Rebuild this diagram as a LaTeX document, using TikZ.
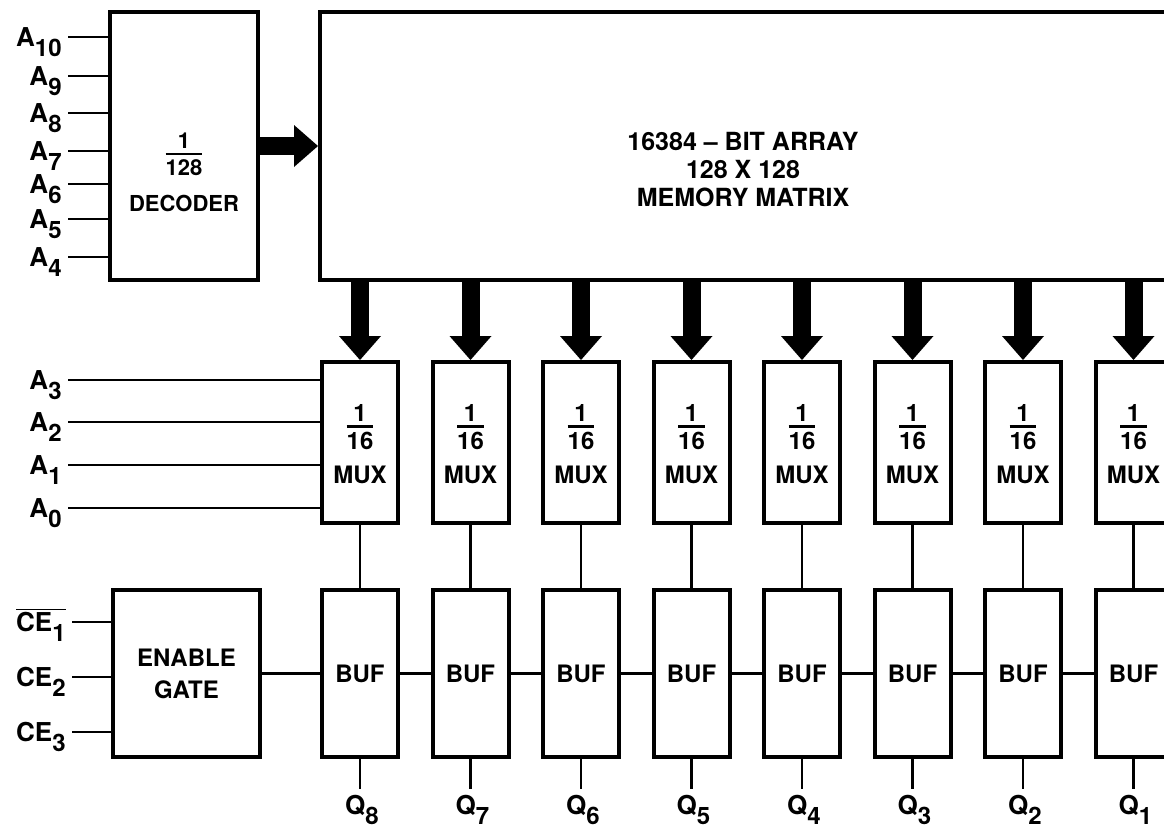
\documentclass[tikz,border=0pt]{standalone}
\usepackage{fontspec}
\setmainfont{TeX Gyre Heros}
\usetikzlibrary{arrows.meta, positioning, calc}

\setlength{\arrayrulewidth}{1.2pt}
% lowered index digit, as lettered on the sheet
\newcommand{\idx}[1]{\raisebox{-5pt}{\fontsize{12}{12}\selectfont #1}}
% stacked 1/n fraction
\newcommand{\frc}[2]{\begin{tabular}{@{}c@{}}#1\\[-2pt]\hline\noalign{\vskip1pt}#2\end{tabular}}

\begin{document}
\begin{tikzpicture}[
  x=0.5pt, y=-0.5pt,
  % --- blocks ---
  blk/.style={draw, line width=2pt, inner sep=0pt, align=center,
    font=\fontsize{12}{14}\selectfont\bfseries},
  decbox/.style={blk, minimum width=74pt, minimum height=134pt},
  matbox/.style={blk, minimum width=423pt, minimum height=134pt},
  muxbox/.style={blk, minimum width=38pt, minimum height=80.5pt},
  bufbox/.style={blk, minimum width=38pt, minimum height=83.5pt},
  gatebox/.style={blk, minimum width=73.5pt, minimum height=83.5pt},
  % --- labels ---
  pin/.style={font=\fontsize{13}{15}\selectfont\bfseries, inner sep=3pt},
  apin/.style={pin, anchor=east, text height=14pt, text depth=5pt},
  txt/.style={align=center, inner sep=0pt},
  % --- connectors ---
  wire/.style={line width=1.2pt},
  bus/.style={line width=9pt,
    -{Triangle[length=12pt, width=21pt, line width=0pt]}},
]
\useasboundingbox (0,0) rectangle (1164,831);
\clip (0,0) rectangle (1164,831);

% ===================== DECODER AND MATRIX =====================

\node[decbox] (dec) at (184,146) {};
\node[txt, font=\fontsize{11}{13}\selectfont\bfseries] (dectxt)
  at ([yshift=-12.5pt]dec.center) {\frc{1}{128}\\[5pt]DECODER};

\node[matbox] (mat) at (743,146) {};
\node[txt, font=\fontsize{12.5}{14}\selectfont\bfseries] (mattxt)
  at ([yshift=-12pt]mat.center) {16384 -- BIT ARRAY\\128 X 128\\MEMORY MATRIX};

\draw[bus] (dec.east) -- (dec.east -| mat.west);

% row address inputs
\foreach \n/\y in {10/37, 9/76, 8/113, 7/151, 6/184, 5/219, 4/257} {
  \node[apin] (a\n) at (68,\y) {A\idx{\n}};
  \draw[wire] (a\n) -- (a\n -| dec.west);
}

% ===================== MUX / BUF COLUMNS =====================

\foreach \i/\q in {0/8, 1/7, 2/6, 3/5, 4/4, 5/3, 6/2, 7/1} {
  \node[muxbox] (mux\q) at ({360+110.5*\i},442.5) {\frc{1}{16}\\[3pt]MUX};
  \node[bufbox] (buf\q) at ({360+110.5*\i},673.5) {BUF};
  \node[pin] (q\q) at ({362+110.5*\i},810) {Q\idx{\q}};
  \draw[bus] (mux\q.north |- mat.south) -- (mux\q.north);
  \draw[wire] (mux\q) -- (buf\q);
  \draw[wire] (buf\q.south) -- (buf\q.south |- q\q.north);
}

% column address inputs
\foreach \n/\y in {3/380, 2/422, 1/465, 0/508} {
  \node[apin] (a\n) at (68,\y) {A\idx{\n}};
  \draw[wire] (a\n) -- (a\n -| mux8.west);
}

% ===================== ENABLE =====================

\node[gatebox] (gate) at (186.5,673.5) {ENABLE\\[2pt]GATE};

\node[apin] (ce1) at (72,622) {$\overline{\mbox{CE\idx{1}}}$};
\node[apin] (ce2) at (72,677) {CE\idx{2}};
\node[apin] (ce3) at (72,732) {CE\idx{3}};
\foreach \c in {ce1, ce2, ce3}
  \draw[wire] (\c) -- (\c -| gate.west);

\foreach \a/\b in {gate/buf8, buf8/buf7, buf7/buf6, buf6/buf5,
                   buf5/buf4, buf4/buf3, buf3/buf2, buf2/buf1}
  \draw[wire] (\a) -- (\b);

\end{tikzpicture}
\end{document}
